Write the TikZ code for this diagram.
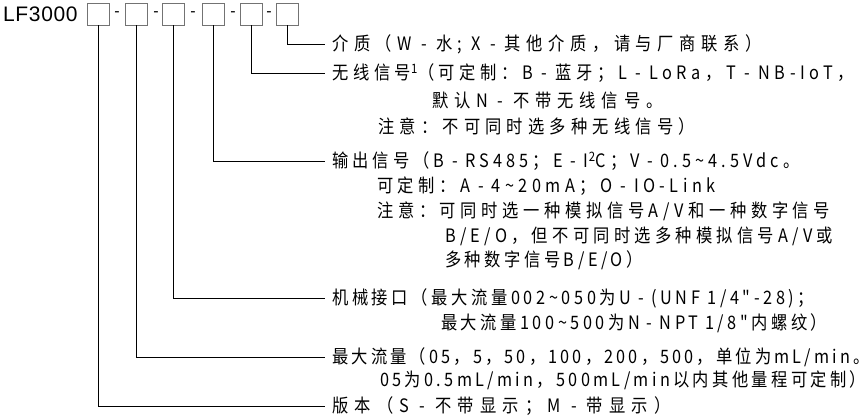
\documentclass[tikz,border=0pt]{standalone}
\usepackage{fontspec}
\setmainfont{Noto Sans CJK SC}[Ligatures=TeXOff, FakeStretch=0.88, LetterSpace=19]
\newfontfamily\codefont{Liberation Sans}[Ligatures=TeXOff, LetterSpace=3]
\usetikzlibrary{positioning}

\begin{document}
\begin{tikzpicture}[x=1pt, y=-1pt, font=\fontsize{18.5}{18.5}\selectfont]
\tikzset{
    slotbox/.style={draw=black!55, minimum size=22pt, inner sep=0pt},
    track/.style={font=\fontsize{18.5}{18.5}\selectfont\addfontfeatures{LetterSpace=#1}},
    desc/.style={anchor=west, inner sep=0pt, track=#1},
    desc/.default=19,
    more/.style={anchor=west, inner sep=0pt, track=#1},
    more/.default=19,
    lead/.style={black, line width=0.8pt}
}
\useasboundingbox (0,0) rectangle (867,419);

\node[anchor=west, inner sep=0pt, font=\codefont\fontsize{21}{21}\selectfont] (code) at (3,14) {LF3000};
\node[slotbox] (s1) at (98,14) {};
\node[slotbox] (s2) at (136.5,14) {};
\node[slotbox] (s3) at (173,14) {};
\node[slotbox] (s4) at (213,14) {};
\node[slotbox] (s5) at (251,14) {};
\node[slotbox] (s6) at (287,14) {};
\foreach \x/\n in {117/1,156/2,193/3,233/4,269/5}
    \node[inner sep=0pt, font=\codefont\fontsize{16}{16}\selectfont] (d\n) at (\x,14) {-};

\node[desc=30] (t6) at (332,44) {介质（W - 水; X - 其他介质，请与厂商联系）};

\node[desc=25] (t5) at (332,73) {无线信号\textsuperscript{1}（可定制：B - 蓝牙；L - LoRa，T - NB-IoT，};
\node[more=32] (t5b) at (432,100) {默认N - 不带无线信号。};
\node[more=28] (t5c) at (378,126) {注意：不可同时选多种无线信号）};

\node[desc=22] (t4) at (332,161) {输出信号（B - RS485；E - I\textsuperscript{2}C；V - 0.5\textasciitilde4.5Vdc。};
\node[more=24] (t4b) at (377,186) {可定制：A - 4\textasciitilde20mA；O - IO-Link};
\node[more=25] (t4c) at (377,211) {注意：可同时选一种模拟信号A/V和一种数字信号};
\node[more=23] (t4d) at (445,236) {B/E/O，但不可同时选多种模拟信号A/V或};
\node[more] (t4e) at (445,260) {多种数字信号B/E/O）};

\node[desc=19.5] (t3) at (332,298) {机械接口（最大流量002\textasciitilde050为U - (UNF 1/4"-28)；};
\node[more] (t3b) at (441,323) {最大流量100\textasciitilde500为N - NPT 1/8"内螺纹）};

\node[desc=17] (t2) at (332,357) {最大流量（05，5，50，100，200，500，单位为mL/min。};
\node[more=18] (t2b) at (380,380) {05为0.5mL/min，500mL/min以内其他量程可定制）};

\node[desc=34] (t1) at (332,406) {版本（S - 不带显示；M - 带显示）};

\foreach \n in {1,...,6}
    \draw[lead] (s\n.south) |- ([xshift=-7pt]t\n.west);
\end{tikzpicture}
\end{document}
